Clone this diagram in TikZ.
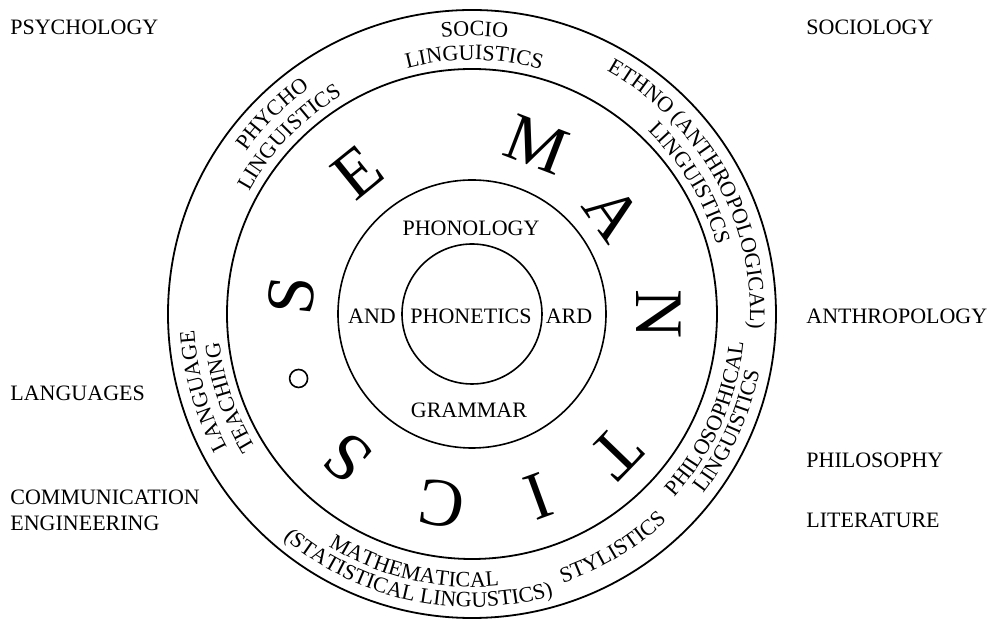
\documentclass[tikz,border=0pt]{standalone}
\usepackage{fontspec}
\setmainfont{Liberation Serif}
\usepackage{tikz}
\usetikzlibrary{decorations.text}

\newcommand{\ringfont}{\fontsize{11}{13}\selectfont}
\newcommand{\semfont}{\fontsize{34}{40}\selectfont}

\begin{document}
\begin{tikzpicture}[x=0.5pt, y=0.5pt, line cap=round, line join=round,
    campo/.style={font=\ringfont, inner sep=0pt, anchor=west, align=left},
    centro/.style={font=\ringfont, inner sep=0pt},
    lettera/.style={font=\semfont, inner sep=0pt},
    ringtext/.style={decorate, decoration={text along path, text align=center, text={|\ringfont|#1}}}]

    \useasboundingbox (-472,-306) rectangle (520,314);

    % Cerchi
    \draw[line width=0.9pt] (0,0) circle[radius=304];
    \draw[line width=0.9pt] (0,0) circle[radius=245];
    \draw[line width=0.8pt] (0,0) circle[radius=134];
    \draw[line width=0.8pt] (0,0) circle[radius=70];

    % Discipline esterne
    \node[campo] (psy) at (-462,287) {PSYCHOLOGY};
    \node[campo] (soc) at (334,287) {SOCIOLOGY};
    \node[campo] (anthro) at (334,-2) {ANTHROPOLOGY};
    \node[campo] (lang) at (-462,-79) {LANGUAGES};
    \node[campo] (philo) at (334,-146) {PHILOSOPHY};
    \node[campo] (comm) at (-462,-196) {COMMUNICATION\\ENGINEERING};
    \node[campo] (lit) at (334,-206) {LITERATURE};

    % Anello esterno (testo verso l'esterno)
    \path[ringtext=SOCIO] (149.5:278) arc[start angle=149.5, end angle=29.5, radius=278];
    \path[ringtext=LINGUISTICS] (149.5:254) arc[start angle=149.5, end angle=29.5, radius=254];
    \path[ringtext=PHYCHO] (195:278) arc[start angle=195, end angle=75, radius=278];
    \path[ringtext=LINGUISTICS] (196:254) arc[start angle=196, end angle=76, radius=254];
    \path[ringtext={ETHNO (ANTHROPOLOGICAL)}] (89:278) arc[start angle=89, end angle=-31, radius=278];
    \path[ringtext=LINGUISTICS] (91:254) arc[start angle=91, end angle=-29, radius=254];
    \path[ringtext=LANGUAGE] (256:278) arc[start angle=256, end angle=136, radius=278];
    \path[ringtext=TEACHING] (259:254) arc[start angle=259, end angle=139, radius=254];

    % Anello esterno (testo verso il centro)
    \path[ringtext=PHILOSOPHICAL] (-84:273) arc[start angle=-84, end angle=36, radius=273];
    \path[ringtext=LINGUISTICS] (-84.6:293) arc[start angle=-84.6, end angle=35.4, radius=293];
    \path[ringtext=STYLISTICS] (-119:284) arc[start angle=-119, end angle=1, radius=284];
    \path[ringtext=MATHEMATICAL] (-163:273) arc[start angle=-163, end angle=-43, radius=273];
    \path[ringtext={(STATISTICAL LINGUSTICS)}] (-162:293) arc[start angle=-162, end angle=-42, radius=293];

    % SEMANTICS
    \foreach \ch/\ang/\rad [count=\i] in {S/174/182, E/129/182, M/69/181, A/35.5/173,
        N/0/187, T/-44/200, I/-70/194, C/-99/192, S/-131/190}
        \node[lettera, rotate=\ang-90] (sem\i) at (\ang:\rad) {\ch};
    \draw[line width=0.8pt] (-159.6:185) circle[radius=9];

    % Centro
    \node[centro] (phonol) at (-1,86) {PHONOLOGY};
    \node[centro] (and) at (-100,-2) {AND};
    \node[centro] (phonet) at (-1,-2) {PHONETICS};
    \node[centro] (ard) at (97,-2) {ARD};
    \node[centro] (gram) at (-3,-96) {GRAMMAR};

\end{tikzpicture}
\end{document}
